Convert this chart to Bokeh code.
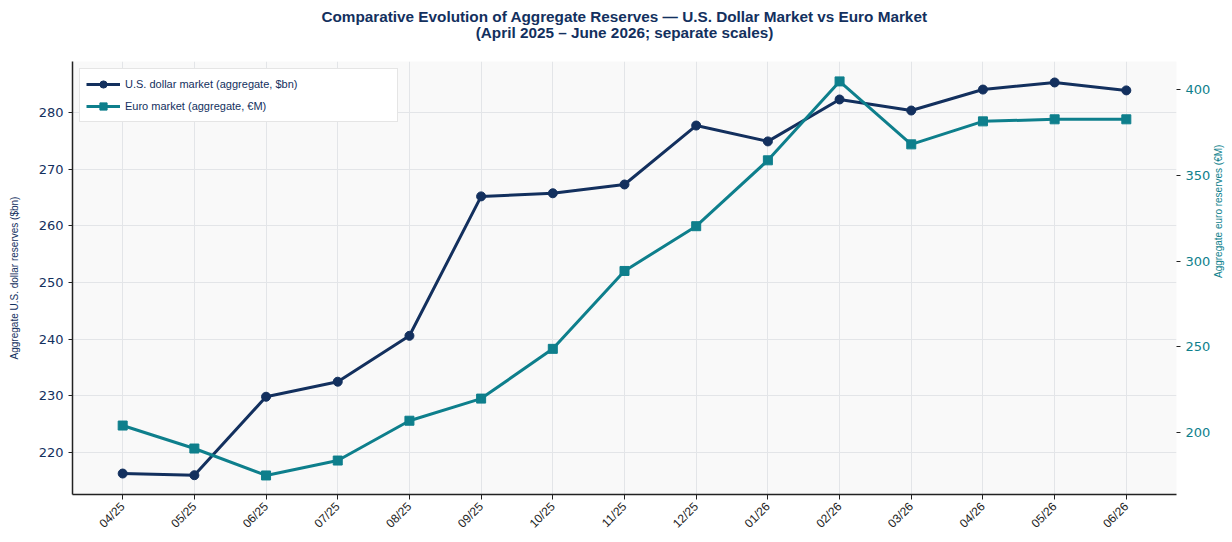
import math
from bokeh.plotting import figure
from bokeh.models import Range1d, LinearAxis, FixedTicker, Title, Legend, LegendItem
from bokeh.embed import file_html
from bokeh.resources import INLINE

months = ["04/25", "05/25", "06/25", "07/25", "08/25", "09/25", "10/25", "11/25",
          "12/25", "01/26", "02/26", "03/26", "04/26", "05/26", "06/26"]
usd = [216.3, 216.0, 229.85, 232.5, 240.6, 265.2, 265.75, 267.3,
       277.7, 274.9, 282.3, 280.35, 284.05, 285.3, 283.9]
eur = [204.1, 190.7, 175.0, 183.7, 206.9, 219.8, 248.8, 294.2,
       320.3, 358.7, 404.7, 368.0, 381.4, 382.6, 382.6]
usd_ticks = [220, 230, 240, 250, 260, 270, 280]
eur_ticks = [200, 250, 300, 350, 400]

NAVY = "#13305e"
TEAL = "#0e7f8c"
FONT = "Liberation Sans"

x = list(range(len(months)))

p = figure(width=1232, height=542, output_backend="svg", toolbar_location=None,
           x_range=Range1d(-0.7, len(months) - 0.3), y_range=Range1d(212.6, 289.0),
           min_border_left=72, min_border_right=55, min_border_top=60, min_border_bottom=48)
p.extra_y_ranges = {"eur": Range1d(163.9, 416.3)}

p.title = Title(text="Comparative Evolution of Aggregate Reserves — U.S. Dollar Market vs Euro Market",
                align="center", text_font=FONT, text_font_size="15.3px",
                text_font_style="bold", text_color=NAVY, standoff=-48)
p.add_layout(Title(text="(April 2025 – June 2026; separate scales)", align="center",
                   text_font=FONT, text_font_size="15.3px", text_font_style="bold",
                   text_color=NAVY, standoff=42), "above")

p.background_fill_color = "#f9f9f9"
p.border_fill_color = "white"
p.outline_line_color = None

p.xgrid.grid_line_color = "#e3e5e8"
p.ygrid.grid_line_color = "#e3e5e8"
p.xgrid.grid_line_width = 1
p.ygrid.grid_line_width = 1

# x axis
p.xaxis.ticker = FixedTicker(ticks=x)
p.xaxis.major_label_overrides = {i: m for i, m in enumerate(months)}
p.xaxis.major_label_orientation = 0.785
p.xaxis.major_label_text_font = FONT
p.xaxis.major_label_text_font_size = "12px"
p.xaxis.major_label_text_color = "#222222"
p.xaxis.axis_line_color = "#222222"
p.xaxis.axis_line_width = 1.5
p.xaxis.major_tick_line_color = "#222222"
p.xaxis.major_tick_out = 5
p.xaxis.major_tick_in = 0
p.xaxis.minor_tick_line_color = None

# left axis
p.yaxis.ticker = FixedTicker(ticks=usd_ticks)
p.yaxis.axis_label = "Aggregate U.S. dollar reserves ($bn)"
p.yaxis.axis_label_text_font = FONT
p.yaxis.axis_label_text_font_size = "10px"
p.yaxis.axis_label_text_font_style = "normal"
p.yaxis.axis_label_text_color = NAVY
p.yaxis.axis_label_standoff = 16
p.yaxis.major_label_text_font = "DejaVu Sans"
p.yaxis.major_label_text_font_size = "13px"
p.yaxis.major_label_text_color = NAVY
p.yaxis.axis_line_color = "#222222"
p.yaxis.axis_line_width = 1.5
p.yaxis.major_tick_line_color = "#222222"
p.yaxis.major_tick_out = 4
p.yaxis.major_tick_in = 0
p.yaxis.minor_tick_line_color = None

# right axis
ra = LinearAxis(y_range_name="eur", ticker=FixedTicker(ticks=eur_ticks),
                axis_label="Aggregate euro reserves (€M)")
ra.axis_label_orientation = math.pi / 2
ra.axis_label_text_font = FONT
ra.axis_label_text_font_size = "10px"
ra.axis_label_text_font_style = "normal"
ra.axis_label_text_color = TEAL
ra.major_label_text_font = "DejaVu Sans"
ra.major_label_text_font_size = "13px"
ra.major_label_text_color = TEAL
ra.axis_line_color = None
ra.major_tick_line_color = "#222222"
ra.major_tick_out = 4
ra.major_tick_in = 0
ra.minor_tick_line_color = None
p.add_layout(ra, "right")

l1 = p.line(x, usd, line_color=NAVY, line_width=3)
s1 = p.scatter(x, usd, marker="circle", size=9, fill_color=NAVY, line_color=NAVY)
l2 = p.line(x, eur, line_color=TEAL, line_width=3, y_range_name="eur")
s2 = p.scatter(x, eur, marker="square", size=9, fill_color=TEAL, line_color=TEAL,
               y_range_name="eur")

legend = Legend(items=[
    LegendItem(label="U.S. dollar market (aggregate, $bn)", renderers=[l1, s1]),
    LegendItem(label="Euro market (aggregate, €M)", renderers=[l2, s2]),
], location="top_left")
legend.label_text_font = FONT
legend.label_text_font_size = "11px"
legend.label_text_color = NAVY
legend.border_line_color = "#cccccc"
legend.background_fill_color = "white"
legend.background_fill_alpha = 1.0
legend.glyph_width = 34
legend.glyph_height = 18
legend.label_height = 18
legend.spacing = 4
legend.margin = 7
legend.padding = 6
legend.label_width = 266
p.add_layout(legend)

open("out.html", "w").write(file_html(p, INLINE))
